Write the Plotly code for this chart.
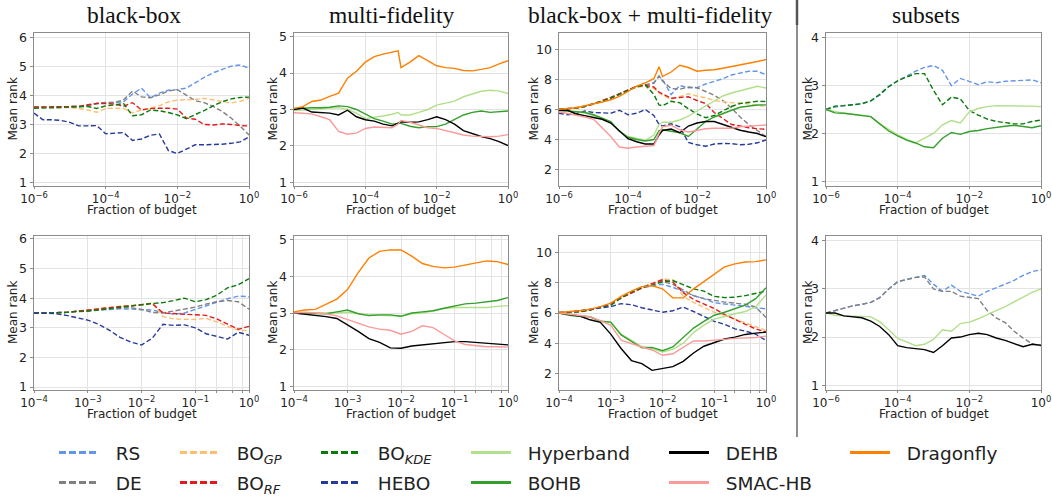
import plotly.graph_objects as go

# ---------------- data (x given as log10 of fraction of budget) ----------------
LOGX_R1 = [-6, -5.75, -5.5, -5.25, -5, -4.75, -4.5, -4.25, -4, -3.75, -3.5, -3.25, -3,
           -2.75, -2.5, -2.25, -2, -1.75, -1.5, -1.25, -1, -0.75, -0.5, -0.25, 0]
LOGX_R1C2 = [-6, -5.75, -5.5, -5.25, -5, -4.75, -4.5, -4.25, -4, -3.75, -3.5, -3.25, -3.08, -3,
             -2.75, -2.5, -2.25, -2, -1.75, -1.5, -1.25, -1, -0.75, -0.5, -0.25, 0]
LOGX_R1C3 = [-6, -5.75, -5.5, -5.25, -5, -4.75, -4.5, -4.25, -4, -3.75, -3.5, -3.25, -3.1, -3,
             -2.75, -2.5, -2.25, -2, -1.75, -1.5, -1.25, -1, -0.75, -0.5, -0.25, 0]
LOGX_R2 = [-4, -3.8, -3.6, -3.4, -3.2, -3, -2.8, -2.6, -2.4, -2.2, -2, -1.8, -1.6, -1.4,
           -1.2, -1, -0.8, -0.6, -0.4, -0.2, 0]

# black-box, row 1
R1C1_RS = [3.6, 3.6, 3.6, 3.6, 3.62, 3.62, 3.65, 3.72, 3.74, 3.75, 3.78, 4.05, 4.25, 3.92, 4.08, 4.18, 4.2, 4.25, 4.45, 4.62, 4.78, 4.9, 5.01, 5.05, 4.94]
R1C1_DE = [3.6, 3.6, 3.6, 3.6, 3.61, 3.62, 3.65, 3.72, 3.76, 3.76, 3.85, 4.15, 3.95, 3.92, 4.02, 4.15, 4.2, 4.0, 3.82, 3.75, 3.62, 3.45, 3.22, 2.95, 2.64]
R1C1_BOGP = [3.6, 3.6, 3.6, 3.6, 3.58, 3.55, 3.5, 3.42, 3.55, 3.56, 3.55, 3.4, 3.5, 3.55, 3.65, 3.78, 3.84, 3.85, 3.86, 3.9, 3.85, 3.78, 3.74, 3.8, 3.9]
R1C1_BORF = [3.6, 3.6, 3.6, 3.6, 3.6, 3.62, 3.68, 3.72, 3.72, 3.7, 3.63, 3.75, 3.5, 3.55, 3.56, 3.56, 3.53, 3.22, 3.18, 3.0, 2.98, 3.02, 3.0, 2.96, 2.95]
R1C1_BOKDE = [3.56, 3.56, 3.57, 3.58, 3.6, 3.62, 3.62, 3.55, 3.64, 3.67, 3.72, 3.3, 3.33, 3.5, 3.47, 3.41, 3.33, 3.2, 3.33, 3.48, 3.64, 3.78, 3.88, 3.93, 3.94]
R1C1_HEBO = [3.39, 3.16, 3.16, 3.14, 3.07, 2.95, 2.95, 2.96, 2.68, 2.70, 2.72, 2.45, 2.50, 2.63, 2.67, 2.10, 2.00, 2.15, 2.30, 2.30, 2.30, 2.32, 2.35, 2.40, 2.57]

# multi-fidelity, row 1
R1C2_HB = [2.97, 2.98, 3.0, 3.02, 3.04, 3.05, 3.0, 2.9, 2.75, 2.78, 2.82, 2.87, 2.92, 2.85, 2.85, 2.92, 3.0, 3.12, 3.18, 3.23, 3.35, 3.42, 3.5, 3.53, 3.51, 3.44]
R1C2_BOHB = [3.02, 3.04, 3.05, 3.05, 3.06, 3.1, 3.08, 3.0, 2.87, 2.75, 2.68, 2.6, 2.62, 2.62, 2.54, 2.5, 2.53, 2.53, 2.6, 2.73, 2.85, 2.92, 2.96, 2.92, 2.93, 2.96]
R1C2_DEHB = [3.0, 3.04, 2.93, 2.91, 2.9, 2.85, 2.98, 2.8, 2.72, 2.68, 2.6, 2.55, 2.62, 2.66, 2.65, 2.66, 2.72, 2.8, 2.72, 2.6, 2.42, 2.33, 2.26, 2.2, 2.12, 2.01]
R1C2_SMAC = [2.91, 2.9, 2.88, 2.8, 2.72, 2.4, 2.32, 2.35, 2.48, 2.52, 2.5, 2.5, 2.6, 2.7, 2.65, 2.58, 2.5, 2.48, 2.42, 2.35, 2.3, 2.27, 2.25, 2.25, 2.27, 2.31]
R1C2_DRAGONFLY = [3.03, 3.08, 3.22, 3.26, 3.36, 3.45, 3.86, 4.05, 4.3, 4.45, 4.52, 4.58, 4.61, 4.15, 4.3, 4.48, 4.35, 4.2, 4.15, 4.13, 4.07, 4.06, 4.1, 4.15, 4.25, 4.34]

# black-box + multi-fidelity, row 1
R1C3_RS = [6.0, 6.05, 6.1, 6.2, 6.35, 6.55, 6.75, 7.0, 7.3, 7.5, 7.6, 7.8, 8.2, 8.0, 7.0, 7.6, 7.45, 7.45, 7.7, 7.85, 8.05, 8.3, 8.45, 8.55, 8.55, 8.32]
R1C3_DE = [6.0, 6.04, 6.1, 6.22, 6.38, 6.58, 6.8, 7.05, 7.32, 7.52, 7.65, 7.75, 8.25, 7.9, 7.4, 7.35, 7.5, 7.45, 7.2, 6.95, 6.6, 6.1, 5.5, 5.0, 4.6, 4.19]
R1C3_BOGP = [6.0, 6.05, 6.1, 6.2, 6.36, 6.56, 6.78, 7.02, 7.3, 7.5, 7.55, 7.4, 7.1, 6.95, 6.68, 6.85, 7.05, 6.9, 6.78, 6.6, 6.5, 6.45, 6.42, 6.38, 6.28, 6.2]
R1C3_BORF = [6.0, 6.05, 6.1, 6.22, 6.38, 6.58, 6.8, 7.05, 7.32, 7.55, 7.6, 7.5, 7.15, 7.05, 6.75, 6.8, 6.85, 6.6, 6.4, 5.8, 5.4, 5.0, 4.9, 4.78, 4.72, 4.68]
R1C3_BOKDE = [6.0, 6.04, 6.1, 6.2, 6.35, 6.55, 6.75, 7.0, 7.3, 7.52, 7.65, 7.0, 6.3, 6.25, 6.55, 6.45, 6.05, 5.7, 5.45, 5.6, 5.9, 6.2, 6.4, 6.5, 6.55, 6.53]
R1C3_HEBO = [5.75, 5.65, 5.72, 5.9, 5.8, 5.75, 5.75, 5.95, 5.65, 5.75, 6.0, 5.6, 5.0, 4.9, 5.05, 4.85, 3.8, 3.65, 3.55, 3.7, 3.74, 3.72, 3.65, 3.68, 3.78, 3.97]
R1C3_HB = [5.9, 5.88, 5.85, 5.78, 5.6, 5.4, 5.15, 4.55, 4.2, 4.05, 3.95, 4.3, 5.0, 5.15, 5.15, 5.3, 5.55, 5.9, 6.25, 6.6, 6.9, 7.1, 7.25, 7.45, 7.55, 7.43]
R1C3_BOHB = [5.95, 5.9, 5.85, 5.8, 5.65, 5.4, 5.2, 4.55, 4.15, 4.0, 3.9, 4.0, 4.6, 4.65, 4.55, 4.45, 4.2, 4.7, 5.2, 5.5, 5.75, 5.95, 6.15, 6.25, 6.3, 6.31]
R1C3_DEHB = [5.95, 5.95, 5.7, 5.6, 5.5, 5.35, 5.1, 4.55, 4.05, 3.85, 3.7, 3.7, 4.3, 4.6, 4.7, 4.45, 4.9, 5.1, 5.2, 5.2, 5.0, 4.78, 4.62, 4.5, 4.4, 4.19]
R1C3_SMAC = [5.85, 5.75, 5.6, 5.5, 5.35, 4.8, 4.2, 3.5, 3.42, 3.5, 3.55, 3.6, 4.4, 4.85, 4.95, 4.65, 4.5, 4.6, 4.72, 4.75, 4.75, 4.75, 4.85, 4.9, 4.92, 4.97]
R1C3_DRAGONFLY = [6.02, 6.08, 6.12, 6.25, 6.35, 6.5, 6.65, 6.88, 7.2, 7.55, 7.78, 8.05, 8.85, 8.2, 8.5, 8.95, 8.8, 8.55, 8.62, 8.65, 8.75, 8.85, 8.95, 9.08, 9.2, 9.33]

# subsets, row 1
R1C4_RS = [2.5, 2.55, 2.58, 2.6, 2.62, 2.68, 2.8, 2.98, 3.1, 3.2, 3.3, 3.38, 3.42, 3.32, 3.0, 3.15, 3.08, 3.02, 3.08, 3.06, 3.09, 3.1, 3.12, 3.12, 3.06]
R1C4_BOKDE = [2.5, 2.57, 2.58, 2.6, 2.62, 2.68, 2.82, 2.98, 3.1, 3.18, 3.25, 3.25, 2.9, 2.6, 2.76, 2.72, 2.48, 2.38, 2.3, 2.25, 2.22, 2.2, 2.2, 2.25, 2.28]
R1C4_HB = [2.5, 2.46, 2.42, 2.4, 2.38, 2.35, 2.2, 2.08, 1.97, 1.88, 1.8, 1.9, 2.0, 2.18, 2.27, 2.22, 2.45, 2.52, 2.56, 2.58, 2.58, 2.58, 2.58, 2.57, 2.56]
R1C4_BOHB = [2.5, 2.43, 2.42, 2.4, 2.38, 2.35, 2.2, 2.05, 1.95, 1.86, 1.8, 1.72, 1.7, 1.9, 2.02, 1.98, 2.04, 2.06, 2.1, 2.13, 2.15, 2.17, 2.14, 2.12, 2.16]

# black-box, row 2
R2C1_RS = [3.5, 3.5, 3.5, 3.52, 3.56, 3.58, 3.62, 3.64, 3.64, 3.63, 3.62, 3.6, 3.52, 3.46, 3.5, 3.62, 3.74, 3.84, 3.98, 4.07, 4.05]
R2C1_DE = [3.5, 3.5, 3.5, 3.52, 3.56, 3.58, 3.62, 3.66, 3.68, 3.68, 3.62, 3.52, 3.5, 3.56, 3.63, 3.7, 3.8, 3.88, 3.92, 3.88, 3.63]
R2C1_BOGP = [3.5, 3.5, 3.5, 3.52, 3.56, 3.6, 3.65, 3.7, 3.72, 3.75, 3.78, 3.85, 3.38, 3.3, 3.28, 3.28, 3.32, 3.2, 3.05, 2.92, 2.9]
R2C1_BORF = [3.5, 3.5, 3.5, 3.52, 3.56, 3.6, 3.65, 3.7, 3.72, 3.74, 3.78, 3.82, 3.5, 3.48, 3.47, 3.45, 3.42, 3.3, 3.12, 2.95, 3.05]
R2C1_BOKDE = [3.5, 3.5, 3.51, 3.52, 3.55, 3.56, 3.6, 3.65, 3.7, 3.74, 3.78, 3.82, 3.85, 3.92, 4.0, 3.88, 3.95, 4.1, 4.35, 4.45, 4.66]
R2C1_HEBO = [3.5, 3.5, 3.48, 3.42, 3.35, 3.26, 3.12, 2.92, 2.68, 2.52, 2.42, 2.65, 3.12, 3.08, 3.1, 3.0, 2.8, 2.72, 2.62, 2.85, 2.75]

# multi-fidelity, row 2
R2C2_HB = [3.0, 3.0, 2.99, 2.98, 3.0, 3.02, 2.98, 2.95, 2.94, 2.93, 2.92, 2.98, 3.0, 3.05, 3.12, 3.15, 3.15, 3.14, 3.15, 3.18, 3.2]
R2C2_BOHB = [3.0, 3.0, 2.99, 2.98, 3.03, 3.08, 2.98, 2.93, 2.95, 2.95, 2.91, 3.0, 3.03, 3.06, 3.13, 3.2, 3.25, 3.27, 3.3, 3.34, 3.42]
R2C2_DEHB = [3.0, 2.97, 2.93, 2.9, 2.85, 2.68, 2.5, 2.3, 2.2, 2.05, 2.04, 2.1, 2.13, 2.15, 2.2, 2.22, 2.22, 2.2, 2.18, 2.15, 2.13]
R2C2_SMAC = [3.0, 3.02, 3.0, 2.98, 2.92, 2.82, 2.72, 2.62, 2.56, 2.53, 2.42, 2.5, 2.65, 2.6, 2.42, 2.24, 2.14, 2.1, 2.08, 2.08, 2.07]
R2C2_DRAGONFLY = [3.03, 3.08, 3.1, 3.25, 3.38, 3.64, 4.1, 4.5, 4.68, 4.72, 4.72, 4.55, 4.35, 4.27, 4.23, 4.25, 4.3, 4.37, 4.42, 4.4, 4.32]

# black-box + multi-fidelity, row 2
R2C3_RS = [6.0, 6.05, 6.1, 6.2, 6.4, 6.6, 7.0, 7.35, 7.65, 7.8, 7.9, 7.7, 7.4, 7.15, 6.95, 6.68, 6.6, 6.55, 6.45, 6.35, 6.28]
R2C3_DE = [6.0, 6.05, 6.1, 6.2, 6.4, 6.6, 7.0, 7.35, 7.7, 7.95, 8.1, 7.9, 7.55, 7.15, 6.95, 6.82, 6.72, 6.65, 6.58, 6.4, 5.7]
R2C3_BOGP = [6.0, 6.05, 6.1, 6.2, 6.4, 6.6, 7.0, 7.35, 7.7, 7.95, 8.25, 8.2, 7.1, 6.7, 6.35, 6.05, 5.85, 5.62, 5.35, 5.1, 4.84]
R2C3_BORF = [6.0, 6.05, 6.1, 6.2, 6.4, 6.6, 7.0, 7.35, 7.65, 7.95, 8.2, 8.05, 7.35, 6.9, 6.6, 6.3, 5.9, 5.55, 5.25, 4.95, 4.73]
R2C3_BOKDE = [6.03, 6.05, 6.08, 6.2, 6.38, 6.5, 7.0, 7.4, 7.7, 7.85, 8.05, 8.15, 7.85, 7.6, 7.45, 7.1, 7.02, 7.05, 7.15, 7.3, 7.45]
R2C3_HEBO = [6.03, 6.08, 6.15, 6.25, 6.35, 6.42, 6.62, 6.55, 6.35, 6.2, 6.05, 6.15, 6.4, 6.1, 5.75, 5.45, 5.25, 4.95, 4.8, 4.6, 4.18]
R2C3_HB = [6.0, 5.85, 5.78, 5.75, 5.45, 5.4, 4.6, 4.2, 3.78, 3.65, 3.42, 3.6, 4.0, 4.7, 5.2, 5.6, 5.8, 5.95, 6.1, 6.4, 7.2]
R2C3_BOHB = [6.0, 5.85, 5.78, 5.75, 5.45, 5.4, 4.55, 4.15, 3.7, 3.72, 3.5, 3.75, 4.35, 5.0, 5.45, 5.85, 6.05, 6.3, 6.52, 6.95, 7.67]
R2C3_DEHB = [6.0, 5.92, 5.8, 5.55, 5.38, 4.6, 3.65, 2.85, 2.65, 2.2, 2.3, 2.45, 2.8, 3.35, 3.8, 4.05, 4.28, 4.4, 4.58, 4.67, 4.73]
R2C3_SMAC = [6.0, 5.92, 5.85, 5.75, 5.5, 5.2, 4.2, 3.95, 3.75, 3.55, 3.2, 3.3, 3.75, 4.15, 4.15, 4.18, 4.25, 4.32, 4.35, 4.38, 4.47]
R2C3_DRAGONFLY = [6.03, 6.08, 6.15, 6.25, 6.42, 6.65, 7.1, 7.45, 7.75, 7.8, 7.6, 7.0, 7.0, 7.6, 8.1, 8.6, 9.05, 9.25, 9.38, 9.4, 9.52]

# subsets, row 2
R2C4_RS = [2.5, 2.55, 2.6, 2.65, 2.68, 2.72, 2.82, 3.0, 3.15, 3.2, 3.24, 3.28, 3.1, 2.95, 3.08, 2.95, 2.9, 2.85, 2.95, 3.02, 3.1, 3.18, 3.28, 3.36, 3.4]
R2C4_DE = [2.5, 2.55, 2.6, 2.65, 2.68, 2.72, 2.82, 3.0, 3.15, 3.2, 3.24, 3.25, 3.0, 2.95, 2.95, 2.85, 2.82, 2.8, 2.55, 2.4, 2.3, 2.12, 1.98, 1.86, 1.82]
R2C4_HB = [2.5, 2.45, 2.44, 2.44, 2.43, 2.42, 2.32, 2.15, 1.97, 1.9, 1.82, 1.85, 1.95, 2.15, 2.12, 2.28, 2.31, 2.38, 2.47, 2.55, 2.63, 2.73, 2.83, 2.93, 3.0]
R2C4_DEHB = [2.5, 2.5, 2.44, 2.42, 2.4, 2.33, 2.22, 2.05, 1.82, 1.78, 1.76, 1.74, 1.68, 1.82, 1.98, 2.0, 2.05, 2.08, 2.05, 1.98, 1.93, 1.87, 1.8, 1.85, 1.83]

COLUMN_TITLES = ["black-box", "multi-fidelity", "black-box + multi-fidelity", "subsets"]
X_TICK_EXP_R1 = [-6, -4, -2, 0]
X_TICK_EXP_R2 = [-4, -3, -2, -1, 0]
X_MINOR_R2 = [0.25, 0.5, 0.75]

# ---------------- styles ----------------
DASH = "5px,2.5px"
STYLE = {
    "RS": ("cornflowerblue", DASH, "RS"),
    "DE": ("#808080", DASH, "DE"),
    "BOGP": ("#fdbf6f", DASH, "BO<sub><i>GP</i></sub>"),
    "BORF": ("#e31a1c", DASH, "BO<sub><i>RF</i></sub>"),
    "BOKDE": ("#0a7a0a", DASH, "BO<sub><i>KDE</i></sub>"),
    "HEBO": ("#26399c", DASH, "HEBO"),
    "HB": ("#b2df8a", "solid", "Hyperband"),
    "BOHB": ("#33a02c", "solid", "BOHB"),
    "DEHB": ("#000000", "solid", "DEHB"),
    "SMAC": ("#fb9a99", "solid", "SMAC-HB"),
    "DRAGONFLY": ("#ff7f00", "solid", "Dragonfly"),
}

PANELS = [
    (1, LOGX_R1, [0.88, 6.15], 1, [("RS", R1C1_RS), ("DE", R1C1_DE), ("BOGP", R1C1_BOGP), ("BORF", R1C1_BORF), ("BOKDE", R1C1_BOKDE), ("HEBO", R1C1_HEBO)]),
    (2, LOGX_R1C2, [0.9, 5.1], 1, [("HB", R1C2_HB), ("BOHB", R1C2_BOHB), ("DEHB", R1C2_DEHB), ("SMAC", R1C2_SMAC), ("DRAGONFLY", R1C2_DRAGONFLY)]),
    (3, LOGX_R1C3, [0.9, 11.1], 2, [("RS", R1C3_RS), ("DE", R1C3_DE), ("BOGP", R1C3_BOGP), ("BORF", R1C3_BORF), ("BOKDE", R1C3_BOKDE), ("HEBO", R1C3_HEBO),
                                      ("HB", R1C3_HB), ("BOHB", R1C3_BOHB), ("DEHB", R1C3_DEHB), ("SMAC", R1C3_SMAC), ("DRAGONFLY", R1C3_DRAGONFLY)]),
    (4, LOGX_R1, [0.9, 4.1], 1, [("RS", R1C4_RS), ("BOKDE", R1C4_BOKDE), ("HB", R1C4_HB), ("BOHB", R1C4_BOHB)]),
    (5, LOGX_R2, [0.9, 6.1], 1, [("RS", R2C1_RS), ("DE", R2C1_DE), ("BOGP", R2C1_BOGP), ("BORF", R2C1_BORF), ("BOKDE", R2C1_BOKDE), ("HEBO", R2C1_HEBO)]),
    (6, LOGX_R2, [0.9, 5.1], 1, [("HB", R2C2_HB), ("BOHB", R2C2_BOHB), ("DEHB", R2C2_DEHB), ("SMAC", R2C2_SMAC), ("DRAGONFLY", R2C2_DRAGONFLY)]),
    (7, LOGX_R2, [0.9, 11.1], 2, [("RS", R2C3_RS), ("DE", R2C3_DE), ("BOGP", R2C3_BOGP), ("BORF", R2C3_BORF), ("BOKDE", R2C3_BOKDE), ("HEBO", R2C3_HEBO),
                                   ("HB", R2C3_HB), ("BOHB", R2C3_BOHB), ("DEHB", R2C3_DEHB), ("SMAC", R2C3_SMAC), ("DRAGONFLY", R2C3_DRAGONFLY)]),
    (8, LOGX_R1, [0.9, 4.1], 1, [("RS", R2C4_RS), ("DE", R2C4_DE), ("HB", R2C4_HB), ("DEHB", R2C4_DEHB)]),
]

W, H = 1052, 498
COL_PX = [(34, 249), (294, 508), (559, 766), (826, 1041)]
ROW_PX = [(33, 186), (236, 390)]

def px_x(v):
    return v / W

def px_y(v):
    return 1 - v / H

fig = go.Figure()
FONT = "DejaVu Sans"
AXCOL = "#8c8c8c"
GRIDCOL = "#e3e3e3"

for idx, logx, yr, dt, series in PANELS:
    xs = [10 ** e for e in logx]
    xa = "x" if idx == 1 else f"x{idx}"
    ya = "y" if idx == 1 else f"y{idx}"
    for key, ys in series:
        col, dash, name = STYLE[key]
        fig.add_trace(go.Scatter(x=xs, y=ys, mode="lines", xaxis=xa, yaxis=ya,
                                 line=dict(color=col, width=1.4, dash=dash),
                                 showlegend=False, hoverinfo="skip"))
    r = (idx - 1) // 4
    c = (idx - 1) % 4
    x0, x1 = COL_PX[c]
    y0, y1 = ROW_PX[r]
    row2_short = (r == 1 and c < 3)
    texps = X_TICK_EXP_R2 if row2_short else X_TICK_EXP_R1
    xaxis = dict(domain=[px_x(x0), px_x(x1)], anchor=ya, type="log", automargin=False,
                 range=[-4, 0] if row2_short else [-6, 0],
                 tickvals=[10 ** e for e in texps],
                 ticktext=[f"10<sup>{'−' if e < 0 else ''}{abs(e)}</sup>" for e in texps],
                 showline=True, mirror=True, linecolor=AXCOL, linewidth=1,
                 showgrid=True, gridcolor=GRIDCOL, gridwidth=1, zeroline=False,
                 ticks="outside", ticklen=2, tickcolor=AXCOL,
                 tickfont=dict(family=FONT, size=12, color="#222"))
    if row2_short:
        xaxis["minor"] = dict(tickvals=X_MINOR_R2, showgrid=True, gridcolor=GRIDCOL,
                              ticks="outside", ticklen=2, tickcolor=AXCOL)
    yaxis = dict(domain=[px_y(y1), px_y(y0)], anchor=xa, range=yr, dtick=dt, tick0=0, automargin=False,
                 showline=True, mirror=True, linecolor=AXCOL, linewidth=1,
                 showgrid=True, gridcolor=GRIDCOL, gridwidth=1, zeroline=False,
                 ticks="outside", ticklen=3.5, tickcolor=AXCOL,
                 tickfont=dict(family=FONT, size=12.5, color="#222"))
    fig.layout["xaxis" if idx == 1 else f"xaxis{idx}"] = xaxis
    fig.layout["yaxis" if idx == 1 else f"yaxis{idx}"] = yaxis

# legend: one small legend per entry, placed in a 6x2 grid
LEG_ORDER = [["RS", "DE"], ["BOGP", "BORF"], ["BOKDE", "HEBO"], ["HB", "BOHB"], ["DEHB", "SMAC"], ["DRAGONFLY"]]
LEG_COL_PX = [54, 175, 316, 466, 664, 845]
LEG_ROW_PX = [453, 483]
n = 0
for ci, col_keys in enumerate(LEG_ORDER):
    for ri, key in enumerate(col_keys):
        n += 1
        lname = "legend" if n == 1 else f"legend{n}"
        col, dash, name = STYLE[key]
        fig.add_trace(go.Scatter(x=[None], y=[None], mode="lines", name="\u00a0\u00a0" + name, legend=lname,
                                 line=dict(color=col, width=3, dash="7px,3px" if dash != "solid" else "solid"),
                                 showlegend=True))
        fig.layout[lname] = dict(x=LEG_COL_PX[ci] / W, y=1 - LEG_ROW_PX[ri] / H, xref="container", yref="container",
                                 xanchor="left", yanchor="middle",
                                 orientation="v", bgcolor="rgba(0,0,0,0)", borderwidth=0, itemwidth=40,
                                 font=dict(family=FONT, size=18.5, color="#222"))

ann = []
TITLE_X = [134, 392, 650, 926]
for c, t in enumerate(COLUMN_TITLES):
    ann.append(dict(text=t, x=px_x(TITLE_X[c]), y=px_y(15), xref="paper", yref="paper",
                    xanchor="center", yanchor="middle", showarrow=False,
                    font=dict(family="Liberation Serif", size=23.5, color="#111")))
YLAB_X = [13, 273, 534, 808]
XLAB_Y = [210, 414]
for r in range(2):
    y0, y1 = ROW_PX[r]
    for c in range(4):
        x0, x1 = COL_PX[c]
        ann.append(dict(text="Mean rank", x=px_x(YLAB_X[c]), y=px_y((y0 + y1) / 2), xref="paper", yref="paper",
                        xanchor="center", yanchor="middle", textangle=-90, showarrow=False,
                        font=dict(family=FONT, size=12, color="#222")))
        ann.append(dict(text="Fraction of budget", x=px_x((x0 + x1) / 2), y=px_y(XLAB_Y[r]), xref="paper", yref="paper",
                        xanchor="center", yanchor="middle", showarrow=False,
                        font=dict(family=FONT, size=12, color="#222")))

shapes = [
    dict(type="line", xref="paper", yref="paper", x0=px_x(797), x1=px_x(797), y0=px_y(0), y1=px_y(437),
         line=dict(color="#444", width=1.2)),
    dict(type="line", xref="paper", yref="paper", x0=px_x(797), x1=px_x(797), y0=px_y(0), y1=px_y(25),
         line=dict(color="#555", width=2.5)),
]

fig.update_layout(width=W, height=H, margin=dict(l=0, r=0, t=0, b=0, autoexpand=False),
                  paper_bgcolor="white", plot_bgcolor="white",
                  annotations=ann, shapes=shapes, hovermode=False)

fig.write_html("out.html", config={"displayModeBar": False, "staticPlot": True},
               post_script="document.body.style.margin='0px';document.body.style.overflow='hidden';")
